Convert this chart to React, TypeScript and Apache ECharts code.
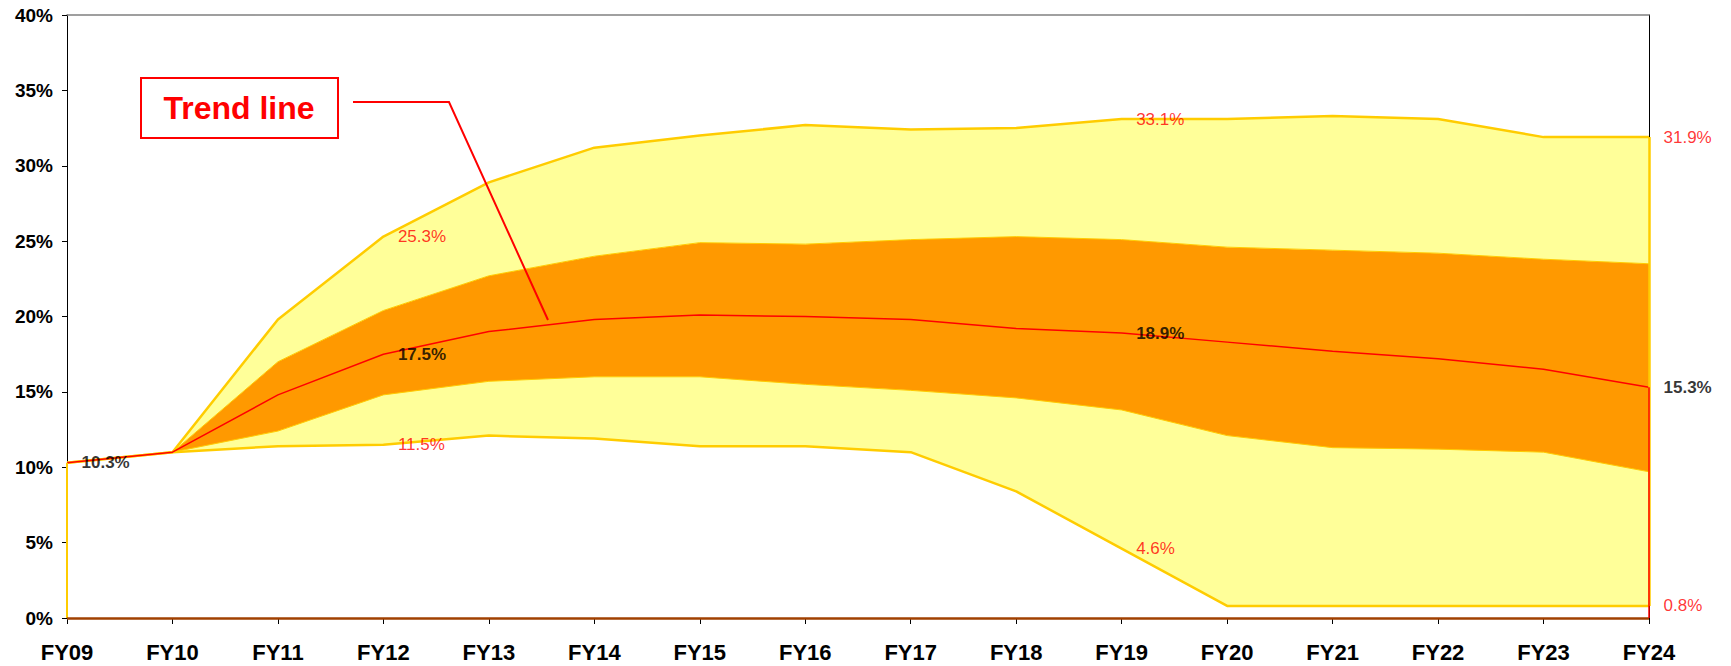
import React, { useEffect, useRef } from "react";
import * as echarts from "echarts";

// Fiscal years on the horizontal axis
const categories = [
  "FY09", "FY10", "FY11", "FY12", "FY13", "FY14", "FY15", "FY16",
  "FY17", "FY18", "FY19", "FY20", "FY21", "FY22", "FY23", "FY24",
];

// Outer range (upper and lower bound), in percent
const maxValues = [10.3, 11.0, 19.8, 25.3, 28.9, 31.2, 32.0, 32.7, 32.4, 32.5, 33.1, 33.1, 33.3, 33.1, 31.9, 31.9];
const minValues = [10.3, 11.0, 11.4, 11.5, 12.1, 11.9, 11.4, 11.4, 11.0, 8.4, 4.6, 0.8, 0.8, 0.8, 0.8, 0.8];

// Inner (orange) band, in percent
const upperBand = [10.3, 11.0, 17.0, 20.4, 22.7, 24.0, 24.9, 24.8, 25.1, 25.3, 25.1, 24.6, 24.4, 24.2, 23.8, 23.5];
const lowerBand = [10.3, 11.0, 12.4, 14.8, 15.7, 16.0, 16.0, 15.5, 15.1, 14.6, 13.8, 12.1, 11.3, 11.2, 11.0, 9.7];

// Central trend line, in percent
const trendValues = [10.3, 11.0, 14.8, 17.5, 19.0, 19.8, 20.1, 20.0, 19.8, 19.2, 18.9, 18.3, 17.7, 17.2, 16.5, 15.3];

// Which years carry value labels
const trendLabelIdx = [0, 3, 10, 15];
const rangeLabelIdx = [3, 10, 15];

const FONT = '"Liberation Sans", Arial, sans-serif';
const YELLOW_LINE = "#FFCC00";
const LIGHT_YELLOW = "#FFFF99";
const ORANGE = "#FF9900";
const RED = "#FF0000";

const diff = (a: number[], b: number[]) => a.map((v, i) => Math.round((v - b[i]) * 10) / 10);

export default function App() {
  const ref = useRef<HTMLDivElement>(null);

  useEffect(() => {
    if (!ref.current) return;
    const chart = echarts.init(ref.current, undefined, { renderer: "svg" });
    const last = categories.length - 1;
    const pct = (p: any) => `${Number(p.value[1]).toFixed(1)}%`;
    const vline = (cat: string, from: number, to: number) => [
      { coord: [cat, from] },
      { coord: [cat, to] },
    ];

    const bandSeries = (name: string, data: number[], fill: string | null, lineWidth: number) => ({
      name,
      type: "line",
      stack: "band",
      data,
      symbol: "none",
      silent: true,
      lineStyle: { width: lineWidth, color: YELLOW_LINE },
      areaStyle: fill ? { color: fill, opacity: 1 } : undefined,
      z: 2,
    });

    chart.setOption({
      animation: false,
      backgroundColor: "#ffffff",
      grid: { left: 67, right: 82, top: 15, bottom: 48, containLabel: false },
      xAxis: [
        {
          type: "category",
          data: categories,
          boundaryGap: false,
          axisLine: { onZero: false, lineStyle: { color: "#000000", width: 1 } },
          axisTick: { show: true, length: 6, lineStyle: { color: "#000000" } },
          axisLabel: {
            margin: 23,
            color: "#000000",
            fontFamily: FONT,
            fontWeight: "bold",
            fontSize: 22,
          },
          splitLine: { show: false },
        },
        {
          type: "category",
          data: categories,
          boundaryGap: false,
          position: "top",
          axisLine: { onZero: false, lineStyle: { color: "#808080", width: 1.5 } },
          axisTick: { show: false },
          axisLabel: { show: false },
          splitLine: { show: false },
        },
      ],
      yAxis: [
        {
          type: "value",
          min: 0,
          max: 40,
          interval: 5,
          axisLine: { show: true, onZero: false, lineStyle: { color: "#000000", width: 1 } },
          axisTick: { show: true, length: 5, lineStyle: { color: "#000000" } },
          axisLabel: {
            formatter: "{value}%",
            margin: 14,
            color: "#000000",
            fontFamily: FONT,
            fontWeight: "bold",
            fontSize: 19,
          },
          splitLine: { show: false },
        },
        {
          type: "value",
          min: 0,
          max: 40,
          interval: 5,
          position: "right",
          axisLine: { show: true, onZero: false, lineStyle: { color: "#000000", width: 1 } },
          axisTick: { show: false },
          axisLabel: { show: false },
          splitLine: { show: false },
        },
      ],
      series: [
        // Stacked layers: invisible base up to the minimum, then the bands
        bandSeries("base", minValues, null, 0),
        bandSeries("lowerRange", diff(lowerBand, minValues), LIGHT_YELLOW, 1),
        bandSeries("innerBand", diff(upperBand, lowerBand), ORANGE, 1),
        bandSeries("upperRange", diff(maxValues, upperBand), LIGHT_YELLOW, 0),
        {
          name: "min",
          type: "line",
          data: minValues,
          symbol: "none",
          silent: true,
          lineStyle: { color: YELLOW_LINE, width: 2.5 },
          z: 3,
          markLine: {
            silent: true,
            symbol: ["none", "none"],
            label: { show: false },
            lineStyle: { type: "solid", color: YELLOW_LINE, width: 2 },
            data: [
              vline(categories[0], 0, minValues[0]),
              [
                { coord: [categories[0], 0], lineStyle: { color: "#A04000", width: 2.5 } },
                { coord: [categories[last], 0] },
              ],
            ],
          },
        },
        {
          name: "max",
          type: "line",
          data: maxValues,
          symbol: "none",
          silent: true,
          lineStyle: { color: YELLOW_LINE, width: 2.5 },
          z: 3,
          markLine: {
            silent: true,
            symbol: ["none", "none"],
            label: { show: false },
            lineStyle: { type: "solid", color: YELLOW_LINE, width: 2.5 },
            data: [vline(categories[last], minValues[last], maxValues[last])],
          },
        },
        {
          name: "Trend line",
          type: "line",
          data: trendValues,
          symbol: "none",
          silent: true,
          lineStyle: { color: RED, width: 1.5 },
          z: 4,
          markLine: {
            silent: true,
            symbol: ["none", "none"],
            label: { show: false },
            lineStyle: { type: "solid", color: RED, width: 1.5 },
            data: [vline(categories[last], 0, trendValues[last])],
          },
        },
        {
          name: "trendLabels",
          type: "scatter",
          data: trendLabelIdx.map((i) => [categories[i], trendValues[i]]),
          symbolSize: 1,
          itemStyle: { color: "rgba(0,0,0,0)" },
          silent: true,
          z: 6,
          label: {
            show: true,
            position: "right",
            distance: 14,
            formatter: pct,
            color: "#000000",
            fontFamily: FONT,
            fontWeight: "bold",
            fontSize: 17,
          },
        },
        {
          name: "rangeLabels",
          type: "scatter",
          data: [
            ...rangeLabelIdx.map((i) => [categories[i], maxValues[i]]),
            ...rangeLabelIdx.map((i) => [categories[i], minValues[i]]),
          ],
          symbolSize: 1,
          itemStyle: { color: "rgba(0,0,0,0)" },
          silent: true,
          z: 6,
          label: {
            show: true,
            position: "right",
            distance: 14,
            formatter: pct,
            color: RED,
            fontFamily: FONT,
            fontWeight: "normal",
            fontSize: 17,
          },
        },
      ],
      graphic: [
        {
          type: "polyline",
          silent: true,
          z: 10,
          shape: { points: [[353, 102], [449, 102], [548, 320]] },
          style: { stroke: RED, lineWidth: 2, fill: "none" },
        },
        {
          type: "rect",
          silent: true,
          z: 10,
          shape: { x: 141, y: 78, width: 197, height: 60 },
          style: { stroke: RED, lineWidth: 2, fill: "#ffffff" },
        },
        {
          type: "text",
          silent: true,
          z: 11,
          x: 239,
          y: 108,
          style: {
            text: "Trend line",
            fill: RED,
            font: `bold 32px ${FONT}`,
            align: "center",
            verticalAlign: "middle",
          },
        },
      ],
    });

    return () => chart.dispose();
  }, []);

  return (
    <div
      ref={ref}
      style={{ position: "fixed", left: 0, top: 0, width: 1731, height: 666, background: "#fff" }}
    />
  );
}
